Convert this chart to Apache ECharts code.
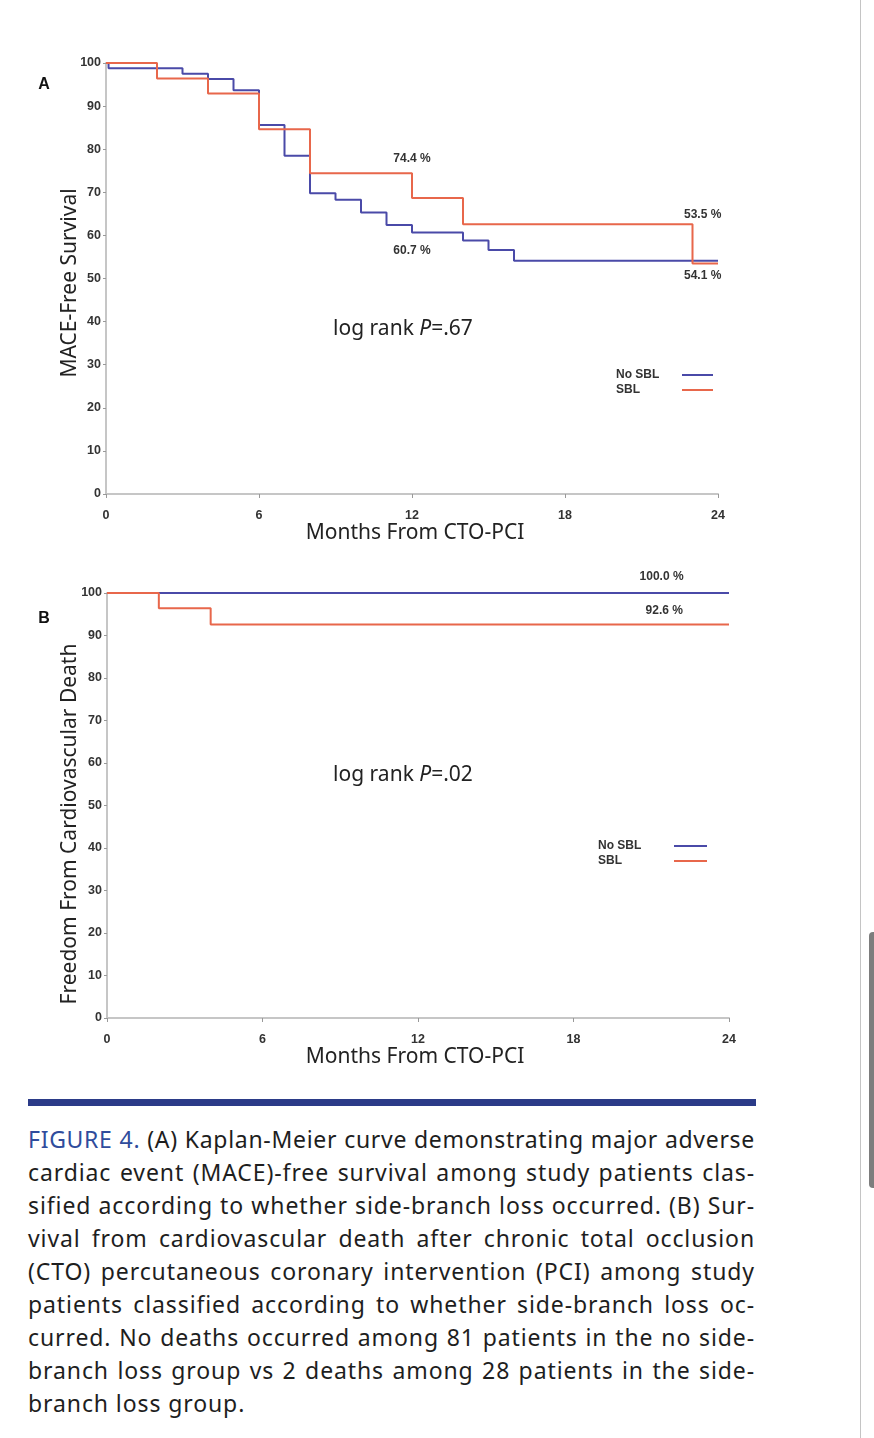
<!DOCTYPE html>
<html><head><meta charset="utf-8">
<script src="https://cdn.jsdelivr.net/npm/echarts@6/dist/echarts.min.js"></script>
<style>
html,body{margin:0;padding:0;background:#fff;width:874px;height:1438px;overflow:hidden;}
#chart{position:absolute;left:0;top:0;width:874px;height:1090px;}
#bar{position:absolute;left:28px;top:1099px;width:728px;height:7px;background:#2b3b88;}
#caption{position:absolute;left:28px;top:1123px;width:727px;font-family:'Noto Sans',Roboto,sans-serif;font-size:23px;letter-spacing:0.9px;line-height:33px;color:#1e1e1e;}
#caption div{white-space:nowrap;text-align:justify;text-align-last:justify;height:33px;}
#caption div.last{text-align-last:left;}
.fig{color:#2f4c9c;}
#sbline{position:absolute;left:860px;top:0;width:1px;height:1438px;background:#c4c4c4;}
#sbthumb{position:absolute;left:869px;top:932px;width:6px;height:256px;background:#7d7d7d;border-radius:4px 0 0 4px;}
</style></head>
<body>
<div id="chart"></div>
<div id="bar"></div>
<div id="caption"></div>
<div id="sbline"></div>
<div id="sbthumb"></div>
<script>
// ---- Data ----
const seriesNames = ['No SBL', 'SBL'];
const xTickMonths = [0, 6, 12, 18, 24];
// Panel A: MACE-free survival (%)
const aNoSblTime = [0, 0.1, 3, 4, 5, 6, 7, 8, 9, 10, 11, 12, 14, 15, 16, 24];
const aNoSblSurv = [100, 98.8, 97.5, 96.3, 93.7, 85.6, 78.5, 69.8, 68.3, 65.3, 62.4, 60.7, 58.8, 56.6, 54.1, 54.1];
const aSblTime = [0, 2, 4, 6, 8, 12, 14, 23, 24];
const aSblSurv = [100, 96.4, 92.9, 84.6, 74.4, 68.7, 62.6, 53.5, 53.5];
// Panel B: freedom from cardiovascular death (%)
const bNoSblTime = [0, 24];
const bNoSblSurv = [100, 100];
const bSblTime = [0, 2, 4, 24];
const bSblSurv = [100, 96.4, 92.6, 92.6];
// Annotated values: [month, survival, text]
const aNoSblLabels = [[12, 60.7, '60.7 %'], [23.4, 54.1, '54.1 %']];
const aSblLabels = [[12, 74.4, '74.4 %'], [23.4, 62.6, '53.5 %']];
const bNoSblLabels = [[21.4, 100, '100.0 %']];
const bSblLabels = [[21.5, 92.6, '92.6 %']];
const logRankP = ['.67', '.02'];
const captionLines = [
  'cardiac event (MACE)-free survival among study patients clas-',
  'sified according to whether side-branch loss occurred. (B) Sur-',
  'vival from cardiovascular death after chronic total occlusion',
  '(CTO) percutaneous coronary intervention (PCI) among study',
  'patients classified according to whether side-branch loss oc-',
  'curred. No deaths occurred among 81 patients in the no side-',
  'branch loss group vs 2 deaths among 28 patients in the side-',
  'branch loss group.'
];

// ---- Helpers ----
const zip = (t, v) => t.map((x, i) => [x, v[i]]);
const BLUE = '#4a4aa8', RED = '#e8674b';
const tickFont = "'Liberation Sans',Arial,sans-serif";
const titleFont = "'Noto Sans',sans-serif";

function mk(labels, pos, dist) {
  return labels.map(l => ({
    coord: [l[0], l[1]], value: l[2],
    label: { show: true, formatter: l[2], position: pos, distance: dist }
  }));
}
function markPts(data) {
  return {
    symbol: 'circle', symbolSize: 0, silent: true,
    itemStyle: { color: 'transparent' },
    label: { color: '#333', fontSize: 12, fontWeight: 'bold', fontFamily: tickFont },
    data: data
  };
}
function xAx(gi, pad) {
  return {
    type: 'value', gridIndex: gi, min: 0, max: 24, interval: 6,
    name: 'Months From CTO-PCI', nameLocation: 'middle', nameGap: 26,
    nameTextStyle: { fontFamily: titleFont, fontSize: 21, color: '#222', padding: pad },
    axisLine: { show: true, lineStyle: { color: '#c6c6c6', width: 2 } },
    axisTick: { show: true, length: 4, lineStyle: { color: '#999' } },
    axisLabel: { margin: 15, color: '#333', fontSize: 12.5, fontWeight: 'bold', fontFamily: tickFont,
      customValues: xTickMonths },
    splitLine: { show: false }
  };
}
function yAx(gi) {
  return {
    type: 'value', gridIndex: gi, min: 0, max: 100, interval: 10,
    axisLine: { show: true, lineStyle: { color: '#c6c6c6', width: 2 } },
    axisTick: { show: true, length: 3, lineStyle: { color: '#999' } },
    axisLabel: { margin: 5, color: '#333', fontSize: 12.5, fontWeight: 'bold', fontFamily: tickFont },
    splitLine: { show: false }
  };
}
function line(name, data, color, gi, labels) {
  return {
    name: name, type: 'line', step: 'end', xAxisIndex: gi, yAxisIndex: gi,
    data: data, showSymbol: false, symbol: 'none', silent: true,
    lineStyle: { color: color, width: 2 }, itemStyle: { color: color },
    animation: false, markPoint: markPts(labels)
  };
}
function legend(left, top, textW, iconW) {
  return {
    orient: 'vertical', left: left, top: top, align: 'right', selectedMode: false,
    icon: 'rect', itemWidth: iconW, itemHeight: 2, itemGap: 3, padding: 0,
    formatter: '{t|{name}}',
    textStyle: {
      lineHeight: 12,
      rich: { t: { width: textW, align: 'left', lineHeight: 12, color: '#333', fontSize: 12, fontWeight: 'bold', fontFamily: tickFont } }
    },
    data: seriesNames
  };
}
function logRank(x, y, p) {
  return {
    type: 'text', x: x, y: y,
    style: {
      text: '{a|log rank }{b|P}{a|=' + p + '}', align: 'center', verticalAlign: 'middle',
      rich: {
        a: { fontFamily: titleFont, fontSize: 21, fill: '#222' },
        b: { fontFamily: titleFont, fontSize: 21, fill: '#222', fontStyle: 'italic' }
      }
    }
  };
}
function yTitle(x, y, t) {
  return {
    type: 'text', x: x, y: y, rotation: Math.PI / 2,
    style: { text: t, align: 'center', verticalAlign: 'middle', fontFamily: titleFont, fontSize: 21, fill: '#222' }
  };
}
function panelLetter(x, y, t) {
  return { type: 'text', x: x, y: y, style: { text: t, align: 'center', verticalAlign: 'middle',
    fontFamily: tickFont, fontWeight: 'bold', fontSize: 16, fill: '#111' } };
}

const chart = echarts.init(document.getElementById('chart'), null, { renderer: 'canvas' });
chart.setOption({
  backgroundColor: '#fff',
  animation: false,
  grid: [
    { left: 106, right: 156, top: 63, height: 431 },
    { left: 107, right: 145, top: 593, height: 425 }
  ],
  xAxis: [xAx(0, [0, 0, 0, 6]), xAx(1, [0, 6, 0, 0])],
  yAxis: [yAx(0), yAx(1)],
  legend: [legend(616, 369, 61, 31), legend(598, 840, 71, 33)],
  series: [
    line('No SBL', zip(aNoSblTime, aNoSblSurv), BLUE, 0,
      mk([aNoSblLabels[0]], 'bottom', 12).concat(mk([aNoSblLabels[1]], 'bottom', 9))),
    line('SBL', zip(aSblTime, aSblSurv), RED, 0,
      mk([aSblLabels[0]], 'top', 9).concat(mk([aSblLabels[1]], 'top', 4))),
    line('No SBL', zip(bNoSblTime, bNoSblSurv), BLUE, 1, mk(bNoSblLabels, 'top', 10)),
    line('SBL', zip(bSblTime, bSblSurv), RED, 1, mk(bSblLabels, 'top', 8))
  ],
  graphic: [
    panelLetter(44, 85, 'A'), panelLetter(44, 619, 'B'),
    yTitle(70, 283, 'MACE-Free Survival'),
    yTitle(70, 824, 'Freedom From Cardiovascular Death'),
    logRank(403, 329, logRankP[0]),
    logRank(403, 775, logRankP[1])
  ]
});

// ---- Caption ----
const cap = document.getElementById('caption');
const first = document.createElement('div');
first.innerHTML = '<span class="fig">FIGURE 4.</span> (A) Kaplan-Meier curve demonstrating major adverse';
cap.appendChild(first);
captionLines.forEach((t, i) => {
  const d = document.createElement('div');
  d.textContent = t;
  if (i === captionLines.length - 1) d.className = 'last';
  cap.appendChild(d);
});
const baseLS = 0.9;
Array.from(cap.children).forEach(d => {
  const s = document.createElement('span');
  s.innerHTML = d.innerHTML;
  s.style.whiteSpace = 'nowrap';
  s.style.visibility = 'hidden';
  s.style.position = 'absolute';
  cap.appendChild(s);
  const w = s.getBoundingClientRect().width;
  cap.removeChild(s);
  if (w > 725) d.style.letterSpacing = (baseLS + (725 - w) / d.textContent.length) + 'px';
});
</script>
</body></html>
